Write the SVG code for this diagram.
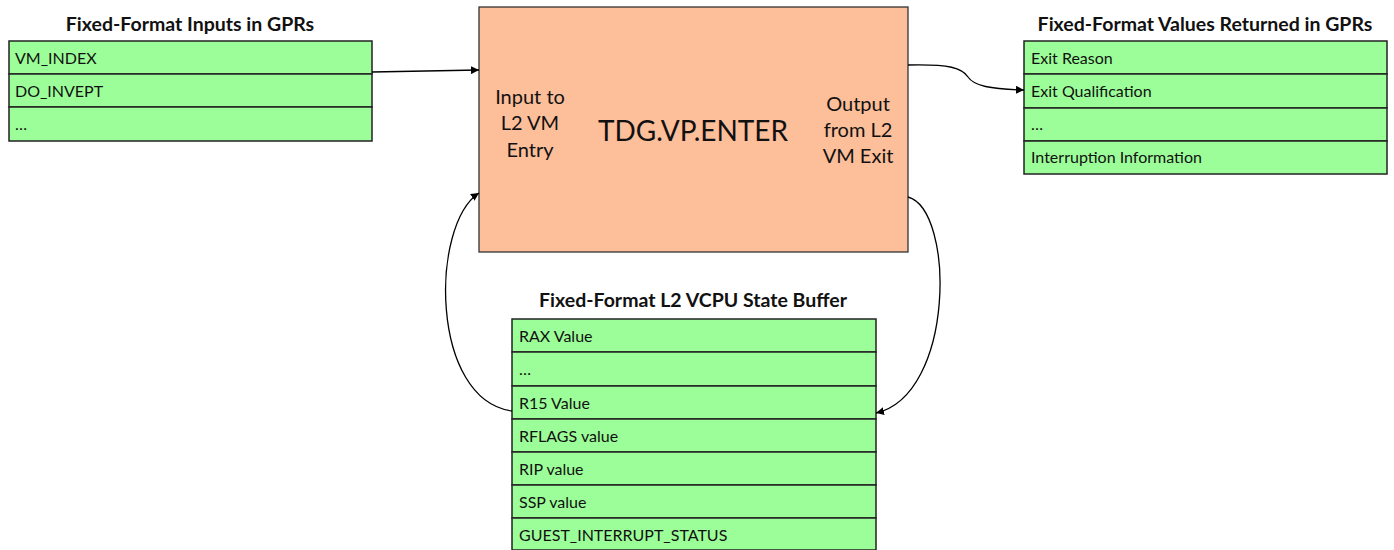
<svg xmlns="http://www.w3.org/2000/svg" width="1394" height="550" viewBox="0 0 1394 550">
<defs>
<style>
.row{fill:#9CFE98;stroke:#222;stroke-width:1.5}
.t{font-family:Lato,"Open Sans",sans-serif;font-size:16px;fill:#111}
.h{font-family:Lato,"Open Sans",sans-serif;font-size:19.5px;font-weight:bold;fill:#111;text-anchor:middle}
.c{font-family:Lato,"Open Sans",sans-serif;fill:#111;text-anchor:middle}
.edge{fill:none;stroke:#000;stroke-width:1.3;marker-end:url(#ah)}
</style>
<marker id="ah" viewBox="0 0 10 10" refX="10" refY="5" markerWidth="8" markerHeight="8" markerUnits="userSpaceOnUse" orient="auto">
<path d="M0,0 L10,5 L0,10 z" fill="#000"/>
</marker>
</defs>
<rect width="1394" height="550" fill="#fff"/>
<g id="inputs">
<text class="h" x="190" y="31">Fixed-Format Inputs in GPRs</text>
<rect class="row" x="9" y="41" width="363" height="33"/>
<rect class="row" x="9" y="74" width="363" height="33"/>
<rect class="row" x="9" y="107" width="363" height="34"/>
<text class="t" x="15" y="64">VM_INDEX</text>
<text class="t" x="15" y="97">DO_INVEPT</text>
<text class="t" x="15" y="130">…</text>
</g>
<g id="enter">
<rect x="479" y="7" width="429" height="245" fill="#FDBE9A" stroke="#333" stroke-width="1.3"/>
<text class="c" x="693" y="141" font-size="28">TDG.VP.ENTER</text>
<text class="c" x="530" y="104" font-size="20">Input to</text>
<text class="c" x="530" y="130" font-size="20">L2 VM</text>
<text class="c" x="530" y="157" font-size="20">Entry</text>
<text class="c" x="858" y="111" font-size="20">Output</text>
<text class="c" x="858" y="137" font-size="20">from L2</text>
<text class="c" x="858" y="163" font-size="20">VM Exit</text>
</g>
<g id="outputs">
<text class="h" x="1205" y="31">Fixed-Format Values Returned in GPRs</text>
<rect class="row" x="1024" y="41" width="363" height="33"/>
<rect class="row" x="1024" y="74" width="363" height="34"/>
<rect class="row" x="1024" y="108" width="363" height="33"/>
<rect class="row" x="1024" y="141" width="363" height="33"/>
<text class="t" x="1031" y="64">Exit Reason</text>
<text class="t" x="1031" y="97">Exit Qualification</text>
<text class="t" x="1031" y="130">…</text>
<text class="t" x="1031" y="163">Interruption Information</text>
</g>
<g id="state">
<text class="h" x="693" y="307">Fixed-Format L2 VCPU State Buffer</text>
<rect class="row" x="512" y="319" width="364" height="33"/>
<rect class="row" x="512" y="352" width="364" height="34"/>
<rect class="row" x="512" y="386" width="364" height="33"/>
<rect class="row" x="512" y="419" width="364" height="33"/>
<rect class="row" x="512" y="452" width="364" height="33"/>
<rect class="row" x="512" y="485" width="364" height="33"/>
<rect class="row" x="512" y="518" width="364" height="32"/>
<text class="t" x="519" y="342">RAX Value</text>
<text class="t" x="519" y="375">…</text>
<text class="t" x="519" y="409">R15 Value</text>
<text class="t" x="519" y="442">RFLAGS value</text>
<text class="t" x="519" y="475">RIP value</text>
<text class="t" x="519" y="508">SSP value</text>
<text class="t" x="519" y="541">GUEST_INTERRUPT_STATUS</text>
</g>
<g id="connectors">
<path class="edge" d="M372,72 L479,70"/>
<path class="edge" d="M908,65 C950,64 962,68 968,77 C974,86 990,89 1024,90"/>
<path class="edge" d="M908,197 C955,210 955,395 876,413"/>
<path class="edge" d="M512,411 C430,400 430,225 479,193"/>
</g>
</svg>
